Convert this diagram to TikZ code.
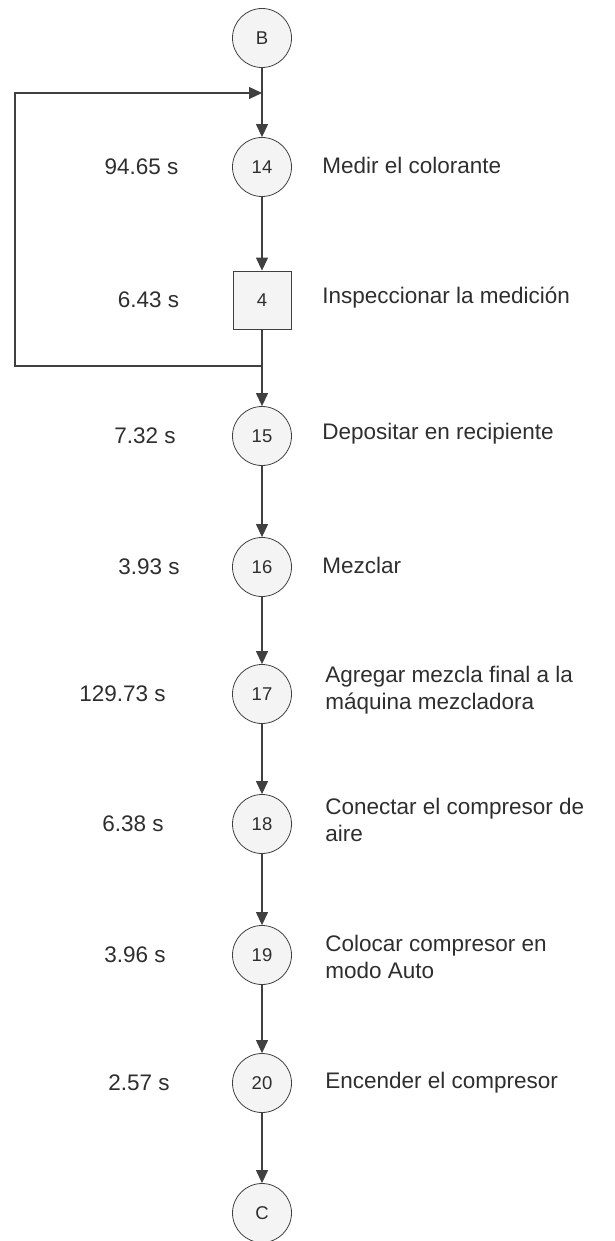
\documentclass[tikz,border=0pt]{standalone}
\usepackage{fontspec}
\setmainfont{Liberation Sans}
\usetikzlibrary{arrows.meta}

\definecolor{linegray}{HTML}{404040}
\definecolor{fillgray}{HTML}{F4F4F4}
\definecolor{textgray}{HTML}{2E2E2E}

\begin{document}
\begin{tikzpicture}[x=0.5pt, y=-0.5pt]
\useasboundingbox (0,0) rectangle (615,1241);

\begin{scope}[every node/.style={circle,draw=linegray,fill=fillgray,minimum size=29.5pt,inner sep=0pt,text=textgray,font=\fontsize{9.25}{11}\selectfont}]
    \node (b) at (262, 38) {B};
    \node (op14) at (262, 167) {14};
    \node (insp4) at (262, 300) [shape=rectangle, minimum size=29pt] {4};
    \node (op15) at (262, 436) {15};
    \node (op16) at (262, 567) {16};
    \node (op17) at (262, 694) {17};
    \node (op18) at (262, 824) {18};
    \node (op19) at (262, 955) {19};
    \node (op20) at (262, 1083) {20};
    \node (c) at (262, 1213) {C};
\end{scope}

% tiempos
\begin{scope}[every node/.style={inner sep=0pt,text=textgray,font=\fontsize{11.25}{13.5}\selectfont}]
    \node (t14) at (141.5, 167) {94.65 s};
    \node (t4) at (148.5, 300) {6.43 s};
    \node (t15) at (145, 436) {7.32 s};
    \node (t16) at (149, 567) {3.93 s};
    \node (t17) at (122.5, 694) {129.73 s};
    \node (t18) at (133, 824) {6.38 s};
    \node (t19) at (135, 955) {3.96 s};
    \node (t20) at (139, 1083) {2.57 s};
\end{scope}

% actividades
\begin{scope}[every node/.style={anchor=west,align=left,inner sep=0pt,text=textgray,font=\fontsize{11.25}{13.5}\selectfont}]
    \node (d14) at (322, 165) {Medir el colorante};
    \node (d4) at (322, 298) {Inspeccionar la medición};
    \node (d15) at (322, 434) {Depositar en recipiente};
    \node (d16) at (322, 565) {Mezclar};
    \node (d17) at (325, 690) {Agregar mezcla final a la\\máquina mezcladora};
    \node (d18) at (325, 820) {Conectar el compresor de\\aire};
    \node (d19) at (325, 957) {Colocar compresor en\\modo Auto};
    \node (d20) at (325, 1083) {Encender el compresor};
\end{scope}

\coordinate (join-top) at (262, 93);
\coordinate (join-bot) at (262, 366);
\coordinate (loop-tl) at (15, 93);
\coordinate (loop-bl) at (15, 366);

\begin{scope}[>={Triangle[length=6.5pt,width=6pt]},
              every edge/.style={draw=linegray,line width=0.6pt}]
    \path [->] (b) edge (op14);
    \path [->] (op14) edge (insp4);
    \path [->] (insp4) edge (op15);
    \path [->] (op15) edge (op16);
    \path [->] (op16) edge (op17);
    \path [->] (op17) edge (op18);
    \path [->] (op18) edge (op19);
    \path [->] (op19) edge (op20);
    \path [->] (op20) edge (c);

    \draw [->, draw=linegray, line width=0.6pt] (join-bot) -- (loop-bl) -- (loop-tl) -- (join-top);
\end{scope}
\end{tikzpicture}
\end{document}
